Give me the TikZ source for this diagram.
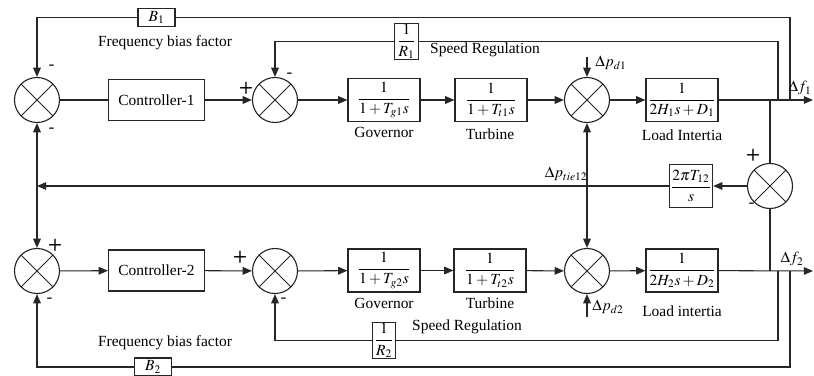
\documentclass[tikz,border=0pt]{standalone}
\usepackage{amsmath}
\usepackage{mathptmx}
\usepackage{fontspec}
\setmainfont{Liberation Serif}
\usepackage{tikz}
\usetikzlibrary{arrows.meta,positioning}
\definecolor{Ink}{HTML}{262626}
\tikzset{
  >={Triangle[length=2.3mm,width=1.9mm]},
  sum/.style={circle,draw=Ink,line width=.8pt,minimum size=11.25mm,inner sep=0pt,
    path picture={\draw[Ink,line width=.7pt]
      (path picture bounding box.south west)--(path picture bounding box.north east)
      (path picture bounding box.north west)--(path picture bounding box.south east);}},
  blk/.style={rectangle,draw=Ink,line width=.8pt,fill=white,minimum width=18mm,minimum height=10.75mm,inner sep=1pt},
  ctrl/.style={blk,minimum width=24mm,minimum height=10.25mm},
  bias/.style={blk,minimum width=9.25mm,minimum height=4.5mm},
  reg/.style={blk,minimum width=5.9mm,minimum height=8.1mm,inner sep=.5pt},
  tie/.style={blk,minimum width=10.5mm,minimum height=10.75mm},
  wire/.style={draw=Ink,line width=.75pt},
  sig/.style={->,wire},
  lab/.style={inner sep=1pt},
  sgn/.style={font=\sffamily\bfseries\large,inner sep=0pt}
}

\begin{document}
\begin{tikzpicture}[x=0.025cm,y=-0.025cm,font=\fontsize{11}{13}\selectfont]
  \useasboundingbox (0,0) rectangle (814,375);
  % area 1
  \node[sum] (sA1) at (37,100) {};
  \node[ctrl] (cA) at (156.5,100) {Controller-1};
  \node[sum] (sB1) at (275,100) {};
  \node[blk] (gA) at (384,100) {$\dfrac{1}{1+T_{g1}s}$};
  \node[blk] (tA) at (491,100) {$\dfrac{1}{1+T_{t1}s}$};
  \node[sum] (sC1) at (587,100) {};
  \node[blk] (lA) at (682,100) {$\dfrac{1}{2H_1s+D_1}$};
  \node[bias] (bA) at (156.5,17.5) {$B_1$};
  \node[reg] (rA) at (406.5,41.5) {$\dfrac{1}{R_1}$};
  % area 2
  \node[sum] (sA2) at (37,271) {};
  \node[ctrl] (cB) at (156.5,270.5) {Controller-2};
  \node[sum] (sB2) at (275,271) {};
  \node[blk] (gB) at (384,270.5) {$\dfrac{1}{1+T_{g2}s}$};
  \node[blk] (tB) at (490,270.5) {$\dfrac{1}{1+T_{t2}s}$};
  \node[sum] (sC2) at (587,271) {};
  \node[blk] (lB) at (682,270.5) {$\dfrac{1}{2H_2s+D_2}$};
  \node[bias] (bB) at (153,367) {$B_2$};
  \node[reg] (rB) at (384,340.5) {$\dfrac{1}{R_2}$};
  % tie line
  \node[sum] (sT) at (770,186) {};
  \node[tie] (tL) at (691,186) {$\dfrac{2\pi T_{12}}{s}$};
  \coordinate (oA) at (813,100);
  \coordinate (oB) at (813,271);
  \coordinate (fA) at (770,100);
  \coordinate (fB) at (770,271);
  \coordinate (rgA) at (778,100);
  \coordinate (rgB) at (778,271);
  \coordinate (bsA) at (790,100);
  \coordinate (bsB) at (790,271);
  \coordinate (jL) at (37,186);
  \coordinate (jC) at (587,186);
  \coordinate (dA) at (587,57);
  \coordinate (dB) at (587,317);

  \draw[wire] (sA1)--(cA);
  \draw[sig] (cA)--(sB1);
  \draw[sig] (sB1)--(gA);
  \draw[sig] (gA)--(tA);
  \draw[sig] (tA)--(sC1);
  \draw[sig] (sC1)--(lA);
  \draw[sig] (lA)--(oA);
  \draw[wire] (bsA)|-(bA.east);
  \draw[sig] (bA.west)-|(sA1.north);
  \draw[wire] (rgA)|-(rA.east);
  \draw[sig] (rA.west)-|(sB1.north);
  \draw[sig] (dA)--(sC1.north);

  \draw[sig] (sA2)--(cB);
  \draw[sig] (cB)--(sB2);
  \draw[sig] (sB2)--(gB);
  \draw[sig] (gB)--(tB);
  \draw[sig] (tB)--(sC2);
  \draw[sig] (sC2)--(lB);
  \draw[sig] (lB)--(oB);
  \draw[wire] (bsB)|-(bB.east);
  \draw[sig] (bB.west)-|(sA2.south);
  \draw[wire] (rgB)|-(rB.east);
  \draw[sig] (rB.west)-|(sB2.south);
  \draw[sig] (dB)--(sC2.south);

  \draw[wire] (fA)--(sT.north);
  \draw[wire] (sT.south)--(fB);
  \draw[sig] (sT.west)--(tL.east);
  \draw[sig] (tL.west)--(jL);
  \draw[sig] (jL)--(sA1.south);
  \draw[sig] (jL)--(sA2.north);
  \draw[sig] (jC)--(sC1.south);
  \draw[sig] (jC)--(sC2.north);

  % labels
  \node[lab] at (165,43) {Frequency bias factor};
  \node[lab] at (165,343) {Frequency bias factor};
  \node[lab] at (485,50) {Speed Regulation};
  \node[lab] at (467,327) {Speed Regulation};
  \node[lab] at (384,132) {Governor};
  \node[lab] at (490,134) {Turbine};
  \node[lab] at (682,135) {Load Intertia};
  \node[lab] at (384,303) {Governor};
  \node[lab] at (490,303) {Turbine};
  \node[lab] at (682,311) {Load intertia};
  \node[lab] at (800,88) {$\Delta f_1$};
  \node[lab] at (792,259) {$\Delta f_2$};
  \node[lab] at (611,63) {$\Delta p_{d1}$};
  \node[lab] at (608,307) {$\Delta p_{d2}$};
  \node[lab] at (566,174) {$\Delta p_{tie12}$};
  % signs
  \node[sgn] at (52,67) {-};
  \node[sgn] at (52,130) {-};
  \node[sgn] at (246,88) {+};
  \node[sgn] at (290,75) {-};
  \node[sgn] at (55,245) {+};
  \node[sgn] at (50,300) {-};
  \node[sgn] at (240,257) {+};
  \node[sgn] at (284,300) {-};
  \node[sgn] at (753,155) {+};
  \node[sgn] at (752,205) {-};
\end{tikzpicture}
\end{document}
